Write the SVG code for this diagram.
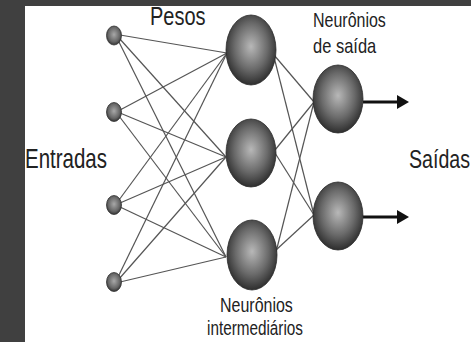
<svg xmlns="http://www.w3.org/2000/svg" width="471" height="342" viewBox="0 0 471 342">
<defs>
<radialGradient id="big" cx="0.5" cy="0.45" r="0.55">
<stop offset="0" stop-color="#b8b8b8"/>
<stop offset="0.6" stop-color="#6a6a6a"/>
<stop offset="1" stop-color="#2e2e2e"/>
</radialGradient>
<radialGradient id="small" cx="0.5" cy="0.45" r="0.55">
<stop offset="0" stop-color="#a8a8a8"/>
<stop offset="0.7" stop-color="#666"/>
<stop offset="1" stop-color="#333"/>
</radialGradient>
<marker id="arr" markerWidth="12" markerHeight="14" refX="1" refY="7" orient="auto" markerUnits="userSpaceOnUse">
<path d="M0,0 L12,7 L0,14 Z" fill="#111"/>
</marker>
</defs>
<style>
.t{font-family:"Liberation Sans",Arial,sans-serif;fill:#222}
.big{fill:url(#big);stroke:#2a2a2a;stroke-width:0.8}
.small{fill:url(#small);stroke:#333;stroke-width:0.8}
.w{stroke:#555;stroke-width:1.2;fill:none}
.out{stroke:#111;stroke-width:3.2;fill:none}
</style>
<rect x="0" y="0" width="471" height="342" fill="#404040"/>
<rect x="25" y="6" width="446" height="336" fill="#ffffff"/>
<g id="connectors">
<line class="w" x1="120" y1="35" x2="227" y2="53"/>
<line class="w" x1="119" y1="38" x2="226" y2="157"/>
<line class="w" x1="118" y1="40" x2="226" y2="257"/>
<line class="w" x1="120" y1="110" x2="227" y2="53"/>
<line class="w" x1="120" y1="113" x2="226" y2="157"/>
<line class="w" x1="119" y1="116" x2="226" y2="257"/>
<line class="w" x1="119" y1="200" x2="227" y2="53"/>
<line class="w" x1="120" y1="203" x2="226" y2="157"/>
<line class="w" x1="120" y1="207" x2="226" y2="257"/>
<line class="w" x1="118" y1="277" x2="227" y2="53"/>
<line class="w" x1="119" y1="279" x2="226" y2="157"/>
<line class="w" x1="120" y1="282" x2="226" y2="257"/>
<line class="w" x1="274" y1="55" x2="314" y2="102"/>
<line class="w" x1="274" y1="57" x2="314" y2="215"/>
<line class="w" x1="275" y1="150" x2="314" y2="102"/>
<line class="w" x1="275" y1="153" x2="314" y2="215"/>
<line class="w" x1="276" y1="252" x2="314" y2="102"/>
<line class="w" x1="276" y1="250" x2="314" y2="215"/>
<line class="out" x1="363" y1="102" x2="398" y2="102" marker-end="url(#arr)"/>
<line class="out" x1="363" y1="217" x2="398" y2="217" marker-end="url(#arr)"/>
</g>
<g id="in1"><ellipse class="small" cx="114" cy="35.5" rx="7.5" ry="9.5"/></g>
<g id="in2"><ellipse class="small" cx="114" cy="112" rx="7.5" ry="9.5"/></g>
<g id="in3"><ellipse class="small" cx="114" cy="205" rx="7.5" ry="9.5"/></g>
<g id="in4"><ellipse class="small" cx="114" cy="282" rx="7.5" ry="9.5"/></g>
<g id="h1"><ellipse class="big" cx="251" cy="50" rx="25" ry="35"/></g>
<g id="h2"><ellipse class="big" cx="251" cy="153" rx="25" ry="34"/></g>
<g id="h3"><ellipse class="big" cx="252" cy="255" rx="25" ry="35"/></g>
<g id="o1"><ellipse class="big" cx="338" cy="99" rx="25" ry="34"/></g>
<g id="o2"><ellipse class="big" cx="338" cy="216" rx="25" ry="34"/></g>
<g id="labels">
<text class="t" font-size="20" transform="translate(150,25) scale(1,1.3)">Pesos</text>
<text class="t" font-size="20.5" transform="translate(25,168) scale(1,1.36)">Entradas</text>
<text class="t" font-size="19.6" transform="translate(409,168) scale(1,1.36)">Saídas</text>
<text class="t" font-size="16" transform="translate(313,27) scale(1,1.27)">Neurônios</text>
<text class="t" font-size="16.5" transform="translate(313,53) scale(1,1.27)">de saída</text>
<text class="t" font-size="16" transform="translate(220,312) scale(1,1.27)">Neurônios</text>
<text class="t" font-size="15.3" transform="translate(207,335) scale(1,1.27)">intermediários</text>
</g>
</svg>
